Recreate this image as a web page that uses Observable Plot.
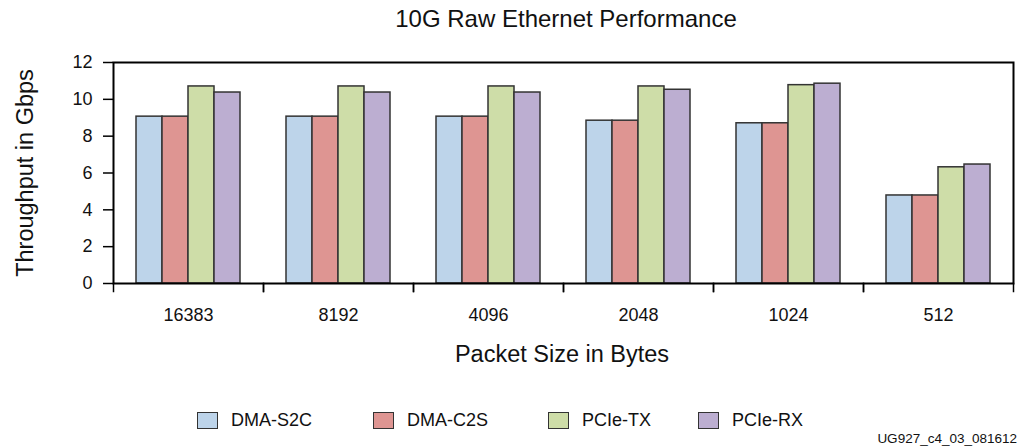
<!DOCTYPE html>
<html>
<head>
<meta charset="utf-8">
<script src="https://cdn.jsdelivr.net/npm/d3@7"></script>
<script src="https://cdn.jsdelivr.net/npm/@observablehq/plot@0.6"></script>
<style>
  body { margin: 0; background: #fff; font-family: "Liberation Sans", Arial, Helvetica, sans-serif; color: #111; }
  #wrap { position: relative; width: 1024px; height: 448px; overflow: hidden; background: #fff; }
  #title { position: absolute; top: 7px; left: 566px; transform: translateX(-50%); font-size: 24px; line-height: 24px; white-space: nowrap; }
  #chart { position: absolute; top: 35px; left: 0; }
  #ytitle { position: absolute; left: 26px; top: 173px; transform: translate(-50%, -50%) rotate(-90deg); font-size: 23.5px; line-height: 23.5px; white-space: nowrap; }
  #xtitle { position: absolute; left: 562px; top: 343px; transform: translateX(-50%); font-size: 23.5px; line-height: 23.5px; white-space: nowrap; }
  #legend { position: absolute; left: 197px; top: 411px; display: flex; align-items: center; font-size: 18px; line-height: 18px; }
  .item { display: flex; align-items: center; }
  .item:nth-child(1) { width: 176px; }
  .item:nth-child(2) { width: 175px; }
  .item:nth-child(3) { width: 150px; }
  .sw { box-sizing: border-box; width: 21px; height: 17px; border: 1.5px solid #333; margin-right: 13px; }
  #caption { position: absolute; right: 7px; top: 432px; font-size: 13.5px; line-height: 13.5px; white-space: nowrap; }
</style>
</head>
<body>
<div id="wrap">
  <div id="title">10G Raw Ethernet Performance</div>
  <div id="chart"></div>
  <div id="ytitle">Throughput in Gbps</div>
  <div id="xtitle">Packet Size in Bytes</div>
  <div id="legend"></div>
  <div id="caption">UG927_c4_03_081612</div>
</div>
<script>
// ---- data ----
const packetSizes = ["16383", "8192", "4096", "2048", "1024", "512"];
const seriesNames = ["DMA-S2C", "DMA-C2S", "PCIe-TX", "PCIe-RX"];
const dmaS2C = [9.06, 9.06, 9.06, 8.84, 8.70, 4.78];
const dmaC2S = [9.06, 9.06, 9.06, 8.84, 8.70, 4.78];
const pcieTX = [10.70, 10.70, 10.70, 10.70, 10.77, 6.31];
const pcieRX = [10.37, 10.37, 10.37, 10.52, 10.85, 6.46];
const seriesColors = ["#bdd4ea", "#de9592", "#cedda8", "#bcaed1"];
const yTicks = [0, 2, 4, 6, 8, 10, 12];

const seriesValues = [dmaS2C, dmaC2S, pcieTX, pcieRX];
const rows = packetSizes.flatMap((size, i) =>
  seriesNames.map((series, j) => ({size, series, value: seriesValues[j][i]}))
);

// ---- layout ----
const W = 1024, H = 345;
const mTop = 27, mBottom = 97, mLeft = 110, mRight = 9;
const innerH = H - mTop - mBottom;

const chart = Plot.plot({
  width: W,
  height: H,
  marginTop: mTop,
  marginBottom: mBottom,
  marginLeft: mLeft,
  marginRight: mRight,
  style: {fontFamily: '"Liberation Sans", Arial, Helvetica, sans-serif', fontSize: "18px", color: "#111", background: "white", overflow: "visible"},
  fx: {domain: packetSizes, paddingInner: 0, paddingOuter: 0, label: null},
  x: {domain: seriesNames, paddingInner: 0, paddingOuter: 0.81, axis: null},
  y: {domain: [0, 12], ticks: yTicks, label: null},
  color: {domain: seriesNames, range: seriesColors},
  marks: [
    Plot.barY(rows, {fx: "size", x: "series", y: "value", fill: "series", stroke: "#333", strokeWidth: 1.5}),
    Plot.frame({facet: "super", stroke: "#000", strokeWidth: 2}),
    Plot.frame({anchor: "left", insetTop: innerH, insetBottom: -8, stroke: "#000", strokeWidth: 1.5}),
    Plot.frame({anchor: "right", insetTop: innerH, insetBottom: -8, stroke: "#000", strokeWidth: 1.5}),
    Plot.axisY({anchor: "left", ticks: yTicks, tickSize: 10, tickPadding: 11, fontSize: 18, stroke: "#000", strokeWidth: 1.5, label: null}),
    Plot.axisFx({anchor: "bottom", tickSize: 0, tickPadding: 25, fontSize: 18, label: null})
  ]
});
document.getElementById("chart").appendChild(chart);

// ---- legend ----
const legend = document.getElementById("legend");
seriesNames.forEach((name, i) => {
  const item = document.createElement("div");
  item.className = "item";
  const sw = document.createElement("div");
  sw.className = "sw";
  sw.style.background = seriesColors[i];
  const lab = document.createElement("span");
  lab.textContent = name;
  item.appendChild(sw);
  item.appendChild(lab);
  legend.appendChild(item);
});
</script>
</body>
</html>
